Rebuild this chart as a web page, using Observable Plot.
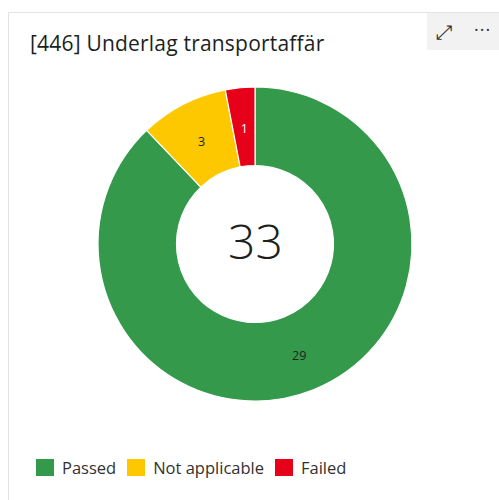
<!DOCTYPE html>
<html>
<head>
<meta charset="utf-8">
<script src="https://cdn.jsdelivr.net/npm/d3@7"></script>
<script src="https://cdn.jsdelivr.net/npm/@observablehq/plot@0.6"></script>
<style>
  html, body { margin: 0; padding: 0; background: #fff; overflow: hidden; width: 499px; height: 500px; }
  body { font-family: "Open Sans", "Noto Sans", sans-serif; position: relative; }
  #card { position: absolute; left: 8px; top: 12px; width: 560px; height: 560px; border: 1px solid #e3e3e3; box-sizing: border-box; }
  #title { position: absolute; left: 30px; top: 29px; font-size: 21px; color: #201f1e; white-space: nowrap; letter-spacing: 0.2px; }
  #tools { position: absolute; left: 427px; top: 13px; width: 80px; height: 37px; background: #f2f2f2; }
  #tools .exp { position: absolute; left: 9px; top: 5px; font-size: 20px; color: #333; }
  #tools .dots { position: absolute; left: 47px; top: 4px; font-size: 18px; color: #333; letter-spacing: 1px; }
  #chart { position: absolute; left: 0; top: 74px; }
  #legend { position: absolute; left: 36px; top: 456px; display: flex; align-items: center; font-size: 16.5px; color: #323130; }
  #legend .item { display: flex; align-items: center; margin-right: 11px; }
  #legend .sw { width: 18px; height: 17px; margin-right: 8px; }
</style>
</head>
<body>
<div id="card"></div>
<div id="title">[446] Underlag transportaffär</div>
<div id="tools"><span class="exp">⤢</span><span class="dots">···</span></div>
<div id="chart"></div>
<div id="legend"></div>
<script>
const categories = ["Passed", "Not applicable", "Failed"];
const counts = [29, 3, 1];
const colors = ["#34994a", "#fdc800", "#e60019"];
const labelColors = ["#201f1e", "#201f1e", "#ffffff"];

const data = categories.map((c, i) => ({category: c, value: counts[i], color: colors[i], labelColor: labelColors[i]}));
const total = d3.sum(counts);
const innerRatio = 0.5;

const arcs = d3.pie().sort(null).value(d => d.value)(data);
const midR = (1 + innerRatio) / 2 * 1.0;
const labels = arcs.map(a => {
  const ang = (a.startAngle + a.endAngle) / 2;
  return {text: String(a.data.value), x: Math.sin(ang) * midR, y: Math.cos(ang) * midR, fill: a.data.labelColor};
});

const W = 499, H = 340, cx = 255, cy = 170, R = 157;

const donut = (index, scales) => {
  const x0 = scales.x(0), y0 = scales.y(0), rad = scales.x(1) - scales.x(0);
  const arc = d3.arc().innerRadius(rad * innerRatio).outerRadius(rad);
  const g = d3.create("svg:g").attr("transform", `translate(${x0},${y0})`);
  g.selectAll("path").data(arcs).join("path")
    .attr("d", arc)
    .attr("fill", d => d.data.color)
    .attr("stroke", "#ffffff")
    .attr("stroke-width", 1.2);
  return g.node();
};

const plot = Plot.plot({
  width: W,
  height: H,
  margin: 0,
  axis: null,
  x: {domain: [-1, 1], range: [cx - R, cx + R]},
  y: {domain: [-1, 1], range: [cy + R, cy - R]},
  style: {background: "transparent", fontFamily: "'Open Sans', 'Noto Sans', sans-serif"},
  marks: [
    donut,
    Plot.text(labels, {x: "x", y: "y", text: "text", fill: "fill", fontSize: 12.5, dy: 2}),
    Plot.text([String(total)], {x: 0, y: 0, text: d => d, fontSize: 48, fontWeight: 300, fill: "#201f1e", dy: -1})
  ]
});
document.getElementById("chart").appendChild(plot);

const legend = document.getElementById("legend");
data.forEach(d => {
  const item = document.createElement("div");
  item.className = "item";
  const sw = document.createElement("div");
  sw.className = "sw";
  sw.style.background = d.color;
  const t = document.createElement("span");
  t.textContent = d.category;
  item.appendChild(sw); item.appendChild(t);
  legend.appendChild(item);
});
</script>
</body>
</html>
